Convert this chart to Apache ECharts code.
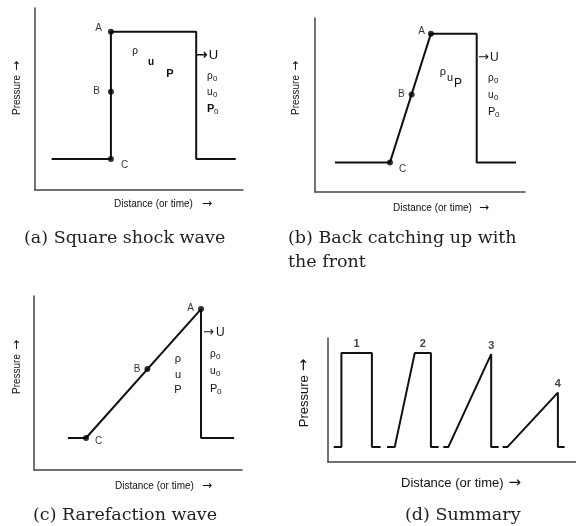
<!DOCTYPE html>
<html>
<head>
<meta charset="utf-8">
<script src="https://cdn.jsdelivr.net/npm/echarts@6/dist/echarts.min.js"></script>
<style>
  html, body { margin: 0; padding: 0; background: #fff; }
  #chart { width: 576px; height: 526px; }
</style>
</head>
<body>
<div id="chart"></div>
<script>
// (a) square shock wave: pressure profile along distance
const squareX = [8, 36.5, 36.5, 77.5, 77.5, 96.5];
const squareP = [17, 17, 87, 87, 17, 17];
const squarePoints = [[36.5, 87, 'A'], [36.5, 54, 'B'], [36.5, 17, 'C']];

// (b) back of the pulse catching up with the front
const catchX = [9.5, 35.7, 55.2, 77, 77, 95.7];
const catchP = [17, 17, 91, 91, 17, 17];
const catchPoints = [[55.2, 91, 'A'], [46, 56, 'B'], [35.7, 17, 'C']];

// (c) rarefaction wave: triangular profile
const rareX = [16.3, 25, 80.3, 80.3, 96.2];
const rareP = [18.4, 18.4, 92.5, 18.4, 18.4];
const rarePoints = [[80.3, 92.5, 'A'], [54.5, 58, 'B'], [25, 18.4, 'C']];

// (d) summary: four successive stages of the pulse
const stage1X = [2.3, 5.4, 5.4, 17.7, 17.7, 21.2];
const stage1P = [12, 12, 88, 88, 12, 12];
const stage2X = [23.8, 26.9, 35, 41.5, 41.5, 44.6];
const stage2P = [12, 12, 88, 88, 12, 12];
const stage3X = [46.5, 48.5, 65.8, 65.8, 68.8];
const stage3P = [12, 12, 87, 12, 12];
const stage4X = [70.4, 72.3, 92.7, 92.7, 95.4];
const stage4P = [12, 12, 56, 12, 12];
const stageTags = [[11.5, 88, '1'], [38.2, 88, '2'], [65.8, 87, '3'], [92.7, 56, '4']];

const zip = (xs, ys) => xs.map((x, i) => [x, ys[i]]);

const SANS = 'Liberation Sans, Arial, sans-serif';
const ARROW = 'DejaVu Sans, sans-serif';
const SERIF = 'DejaVu Serif, serif';
const INK = '#111';
const AXIS = '#444';

const grids = [
  { left: 35, top: 8, width: 208, height: 182 },
  { left: 315, top: 18, width: 210, height: 174 },
  { left: 34, top: 296, width: 208, height: 174 },
  { left: 328, top: 338, width: 262, height: 124 }
];

function axisPair(i) {
  const common = {
    gridIndex: i, type: 'value', min: 0, max: 100,
    axisLine: { show: true, onZero: false, lineStyle: { color: AXIS, width: 1.5 } },
    axisTick: { show: false }, axisLabel: { show: false }, splitLine: { show: false }
  };
  return [common, Object.assign({}, common)];
}

const xAxes = [], yAxes = [];
grids.forEach((g, i) => { const [x, y] = axisPair(i); xAxes.push(x); yAxes.push(y); });

function wave(idx, xs, ys, w) {
  return {
    type: 'line', xAxisIndex: idx, yAxisIndex: idx, data: zip(xs, ys),
    symbol: 'none', lineStyle: { color: INK, width: w || 2 }, silent: true, z: 3
  };
}

function points(idx, pts, labelPos) {
  return {
    type: 'scatter', xAxisIndex: idx, yAxisIndex: idx, symbolSize: 6, z: 4,
    itemStyle: { color: '#000' },
    data: pts.map((p, k) => ({
      value: [p[0], p[1]], name: p[2],
      label: Object.assign({ show: true, formatter: p[2], color: '#000', fontFamily: SANS, fontSize: 10 }, labelPos[k])
    }))
  };
}

const series = [
  wave(0, squareX, squareP),
  points(0, squarePoints, [
    { position: 'left', offset: [-1, -3] },
    { position: 'left', distance: 8 },
    { position: 'right', offset: [2, 6] }
  ]),
  wave(1, catchX, catchP),
  points(1, catchPoints, [
    { position: 'left', offset: [2, -2] },
    { position: 'left', offset: [1, 0] },
    { position: 'right', offset: [1, 7] }
  ]),
  wave(2, rareX, rareP),
  points(2, rarePoints, [
    { position: 'left', offset: [1, -1] },
    { position: 'left', offset: [1, 0] },
    { position: 'right', offset: [1, 3] }
  ]),
  wave(3, stage1X, stage1P, 2),
  wave(3, stage2X, stage2P, 2),
  wave(3, stage3X, stage3P, 2),
  wave(3, stage4X, stage4P, 2),
  {
    type: 'scatter', xAxisIndex: 3, yAxisIndex: 3, symbolSize: 0, silent: true,
    data: stageTags.map(t => ({ value: [t[0], t[1]], name: t[2] })),
    label: {
      show: true, position: 'top', distance: 3, formatter: p => p.name,
      color: INK, fontFamily: SANS, fontSize: 11, fontWeight: 'bold'
    }
  }
];

// text helpers for the annotations drawn on top of the axes
function txt(x, y, text, style) {
  return {
    type: 'text', x: x, y: y, silent: true, z: 10,
    style: Object.assign({ text: text, fill: INK, font: '11px ' + SANS, textAlign: 'center', textVerticalAlign: 'middle' }, style || {})
  };
}
// axis title followed by an arrow glyph
function titled(x, y, label, size, gap, rotated) {
  return {
    type: 'text', x: x, y: y, rotation: rotated ? Math.PI / 2 : 0, silent: true, z: 10,
    style: {
      text: '{t|' + label + '}{a|→}', textAlign: rotated ? 'center' : 'left', textVerticalAlign: 'middle',
      rich: {
        t: { fontFamily: SANS, fontSize: size, fill: INK, padding: [0, gap, 0, 0] },
        a: { fontFamily: ARROW, fontSize: size + 2, fill: INK }
      }
    }
  };
}
// symbol with a lowered "0" subscript
function sub(x, y, base, size, w, bold) {
  return [
    txt(x, y, base, { font: (bold ? 'bold ' : '') + size + 'px ' + SANS, textAlign: 'left' }),
    txt(x + w, y + 3, '0', { font: '8px ' + SANS, textAlign: 'left' })
  ];
}
function front(x, y, size, bold, gap) {
  return {
    type: 'text', x: x, y: y, silent: true, z: 10,
    style: {
      text: '{a|→}{u|U}', textAlign: 'left', textVerticalAlign: 'middle',
      rich: {
        a: { fontFamily: ARROW, fontSize: size + 2, fontWeight: bold ? 'bold' : 'normal', fill: INK, padding: [0, gap, 0, 0] },
        u: { fontFamily: SANS, fontSize: size + 1, fill: INK }
      }
    }
  };
}
function caption(x, y, text) {
  return txt(x, y, text, { font: '17.5px ' + SERIF, textAlign: 'left', fill: '#222' });
}

const graphic = [
  // (a)
  titled(17, 88, 'Pressure', 10, 4, true),
  titled(114, 204, 'Distance (or time)', 10, 9, false),
  txt(135, 51, 'ρ', { font: '10px ' + SANS }),
  txt(151, 62, 'u', { font: 'bold 10px ' + SANS }),
  txt(170, 74, 'P', { font: 'bold 11px ' + SANS }),
  front(196, 55, 12, true, 1),
  ...sub(207, 76, 'ρ', 10, 6, false), ...sub(207, 92, 'u', 10, 6, false), ...sub(207, 109, 'P', 11, 7, true),
  // (b)
  titled(296, 88, 'Pressure', 10, 4, true),
  titled(393, 208, 'Distance (or time)', 10, 7, false),
  txt(443, 72, 'ρ', { font: '11px ' + SANS }),
  txt(450, 78, 'u', { font: '11px ' + SANS }),
  txt(458, 84, 'P', { font: '12px ' + SANS }),
  front(478, 58, 11, false, 1),
  ...sub(488, 78, 'ρ', 10, 6, false), ...sub(488, 95, 'u', 10, 6, false), ...sub(488, 112, 'P', 11, 7, false),
  // (c)
  titled(17, 367, 'Pressure', 10, 4, true),
  titled(115, 486, 'Distance (or time)', 10, 8, false),
  txt(178, 359, 'ρ', { font: '11px ' + SANS }),
  txt(178, 375, 'u', { font: '11px ' + SANS }),
  txt(178, 390, 'P', { font: '11px ' + SANS }),
  front(203, 333, 11, false, 2),
  ...sub(210, 354, 'ρ', 10, 6, false), ...sub(210, 371, 'u', 10, 6, false), ...sub(210, 389, 'P', 11, 7, false),
  // (d)
  titled(304, 393, 'Pressure', 13, 4, true),
  titled(401, 483, 'Distance (or time)', 13, 5, false),
  // captions
  caption(24, 238, '(a) Square shock wave'),
  caption(288, 238, '(b) Back catching up with'),
  caption(288, 262, 'the front'),
  caption(33, 515, '(c) Rarefaction wave'),
  caption(405, 515, '(d) Summary')
];

const chart = echarts.init(document.getElementById('chart'), null, { renderer: 'canvas' });
chart.setOption({
  backgroundColor: '#fff',
  animation: false,
  grid: grids,
  xAxis: xAxes,
  yAxis: yAxes,
  series: series,
  graphic: graphic
});
</script>
</body>
</html>
